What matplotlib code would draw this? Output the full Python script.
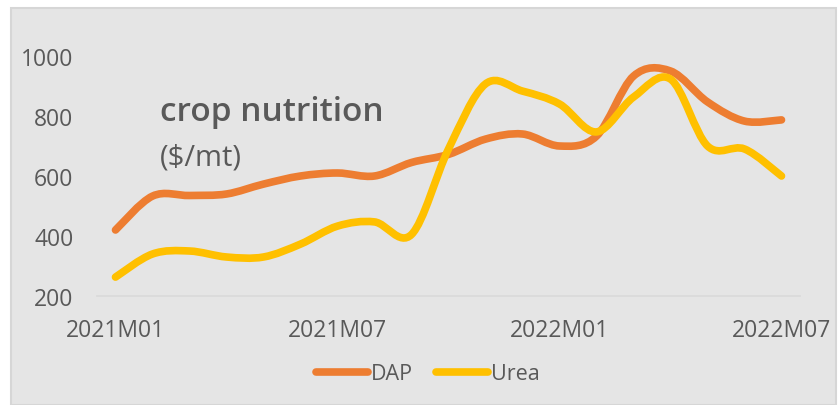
import matplotlib.pyplot as plt
from matplotlib.path import Path
from matplotlib.patches import PathPatch, Rectangle
from matplotlib.lines import Line2D

plt.rcParams['font.family'] = ['Open Sans', 'DejaVu Sans']

# 월별 데이터 (2021M01 ~ 2022M07)
months = [f"{y}M{m:02d}" for y, m in [(2021, i) for i in range(1, 13)] + [(2022, i) for i in range(1, 8)]]
dap = [420, 533, 535, 540, 573, 600, 610, 600, 645, 672, 723, 740, 700, 733, 933, 950, 847, 783, 787]
urea = [263, 340, 350, 330, 330, 373, 433, 447, 405, 690, 907, 883, 840, 747, 863, 923, 700, 690, 600]
tick_labels = ['2021M01', '2021M07', '2022M01', '2022M07']
tick_pos = [months.index(t) for t in tick_labels]

colors = {'DAP': '#ED7D31', 'Urea': '#FFC000'}
text_color = '#595959'


# 엑셀식 부드러운 선 (Catmull-Rom -> 베지어)
def smooth_path(xs, ys):
    verts = [(xs[0], ys[0])]
    codes = [Path.MOVETO]
    n = len(xs)
    for i in range(n - 1):
        x0, y0 = (xs[i - 1], ys[i - 1]) if i > 0 else (xs[i], ys[i])
        x1, y1 = xs[i], ys[i]
        x2, y2 = xs[i + 1], ys[i + 1]
        x3, y3 = (xs[i + 2], ys[i + 2]) if i + 2 < n else (x2, y2)
        c1 = (x1 + (x2 - x0) / 6, y1 + (y2 - y0) / 6)
        c2 = (x2 - (x3 - x1) / 6, y2 - (y3 - y1) / 6)
        verts += [c1, c2, (x2, y2)]
        codes += [Path.CURVE4] * 3
    return Path(verts, codes)


fig = plt.figure(figsize=(8.38, 4.06), dpi=100)
fig.patch.set_facecolor('white')
fig.patches.append(Rectangle((11 / 838, 0), 1 - 13 / 838, 1 - 9 / 406,
                             transform=fig.transFigure, facecolor='#e5e5e5',
                             edgecolor='#d6d6d6', linewidth=1.5, zorder=-10))

ax = fig.add_axes([97 / 838, 109 / 406, 703 / 838, 270 / 406])
ax.set_facecolor('none')
ax.set_zorder(1)

x = list(range(len(months)))
for name, vals in [('DAP', dap), ('Urea', urea)]:
    ax.add_patch(PathPatch(smooth_path(x, vals), facecolor='none',
                           edgecolor=colors[name], linewidth=5.5, capstyle='round'))

ax.set_xlim(-0.5, len(months) - 0.5)
ax.set_ylim(200, 1100)
ax.set_yticks([200, 400, 600, 800, 1000])
ax.set_xticks(tick_pos)
ax.set_xticklabels(tick_labels)
ax.tick_params(axis='both', length=0, labelsize=16.5, colors=text_color)
ax.tick_params(axis='x', pad=16)
ax.tick_params(axis='y', pad=17)
for s in ['top', 'right', 'left']:
    ax.spines[s].set_visible(False)
ax.spines['bottom'].set_color('#d9d9d9')
ax.spines['bottom'].set_linewidth(1.2)

ax.text(1.2, 815, 'crop nutrition', fontsize=24, fontweight='semibold', color=text_color, va='center')
ax.text(1.2, 665, '($/mt)', fontsize=21, color=text_color, va='center')

handles = [Line2D([0], [0], color=colors[n], lw=5.5, solid_capstyle='round') for n in ['DAP', 'Urea']]
fig.legend(handles, ['DAP', 'Urea'], loc='center', bbox_to_anchor=(428 / 838, 1 - 375 / 406),
           ncol=2, frameon=False, fontsize=15.5, handlelength=2.4, handletextpad=0.15,
           columnspacing=1.1, labelcolor=text_color)

fig.savefig('out.png', dpi=100)
